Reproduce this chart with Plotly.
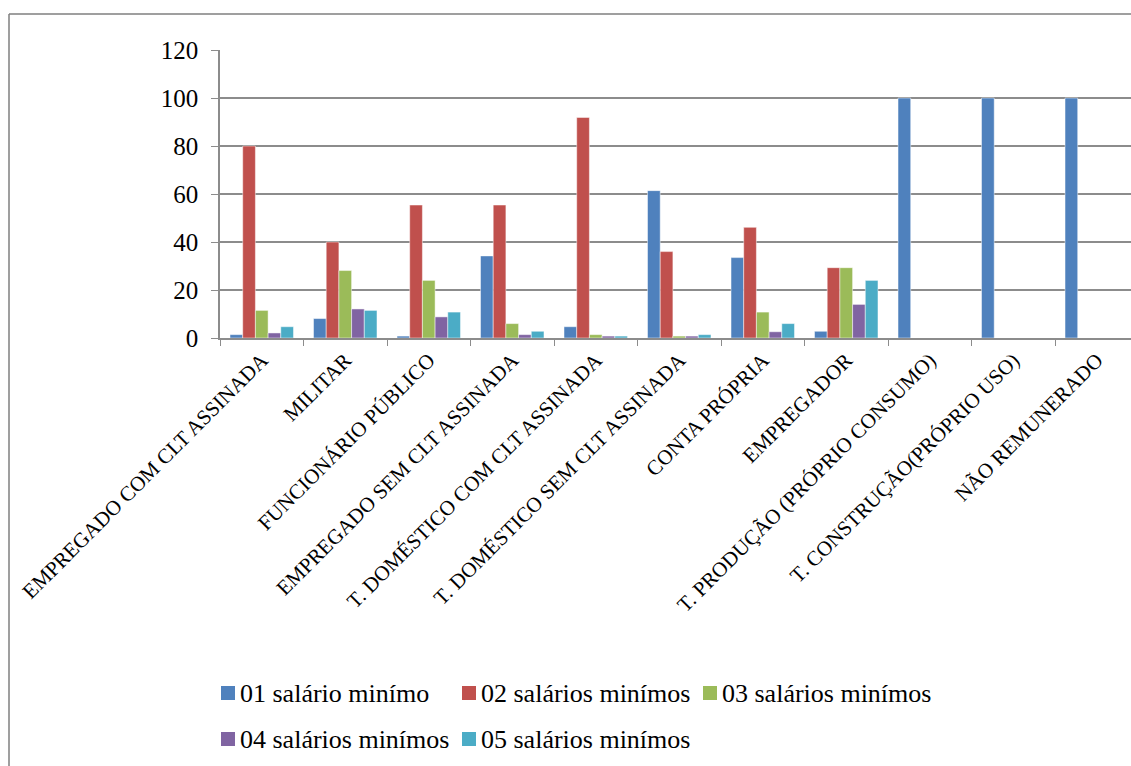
import plotly.graph_objects as go

categories = [
    "EMPREGADO COM CLT ASSINADA",
    "MILITAR",
    "FUNCIONÁRIO PÚBLICO",
    "EMPREGADO SEM CLT ASSINADA",
    "T. DOMÉSTICO COM CLT ASSINADA",
    "T. DOMÉSTICO SEM CLT ASSINADA",
    "CONTA PRÓPRIA",
    "EMPREGADOR",
    "T. PRODUÇÃO (PRÓPRIO CONSUMO)",
    "T. CONSTRUÇÃO(PRÓPRIO USO)",
    "NÃO REMUNERADO",
]

s01 = [1.4, 8.1, 0.8, 34.2, 4.7, 61.4, 33.5, 2.8, 100, 100, 100]
s02 = [80.0, 40.0, 55.4, 55.4, 91.9, 36.0, 46.1, 29.3, 0, 0, 0]
s03 = [11.5, 28.1, 24.0, 6.0, 1.4, 0.8, 10.8, 29.3, 0, 0, 0]
s04 = [2.1, 12.1, 8.8, 1.4, 0.8, 0.8, 2.6, 14.0, 0, 0, 0]
s05 = [4.7, 11.5, 10.8, 2.8, 0.8, 1.4, 6.0, 24.0, 0, 0, 0]

series_names = [
    "01 salário minímo",
    "02 salários minímos",
    "03 salários minímos",
    "04 salários minímos",
    "05 salários minímos",
]
series_values = [s01, s02, s03, s04, s05]
colors = ["#4F81BD", "#C0504D", "#9BBB59", "#8064A2", "#4BACC6"]

W, H = 1131, 766
plot_left, plot_top, plot_bottom = 220, 50, 338
cat_px = 83.5
plot_w = W - plot_left
plot_h = plot_bottom - plot_top
x_end = -0.5 + plot_w / cat_px

def px_x(p):
    return (p - plot_left) / plot_w

def px_y(p):
    return (plot_bottom - p) / plot_h

fig = go.Figure()
for name, vals, col in zip(series_names, series_values, colors):
    fig.add_trace(go.Bar(
        x=categories, y=vals, name=name,
        marker=dict(color=col, line=dict(color="rgba(255,255,255,0.6)", width=0.8)),
        showlegend=False,
    ))

grid = "#8c8c8c"
ff = "Liberation Serif"

# legend drawn as shapes + text annotations (two rows, like the original)
leg_cols = [221, 462, 703, 221, 462]
leg_rows = [693, 693, 693, 739, 739]
msize = 14
shapes = [
    dict(type="line", xref="paper", yref="paper", x0=px_x(9), x1=px_x(9),
         y0=px_y(14), y1=px_y(H + 10), line=dict(color="#7f7f7f", width=1.5)),
    dict(type="line", xref="paper", yref="paper", x0=px_x(9), x1=px_x(W + 10),
         y0=px_y(14), y1=px_y(14), line=dict(color="#7f7f7f", width=1.5)),
]
annotations = []
for name, col, lx, ly in zip(series_names, colors, leg_cols, leg_rows):
    shapes.append(dict(
        type="rect", xref="paper", yref="paper",
        x0=px_x(lx), x1=px_x(lx + msize), y0=px_y(ly - msize / 2), y1=px_y(ly + msize / 2),
        fillcolor=col, line=dict(width=0),
    ))
    annotations.append(dict(
        xref="paper", yref="paper", x=px_x(lx + msize + 3), y=px_y(ly),
        xanchor="left", yanchor="middle", showarrow=False, text=name,
        font=dict(family=ff, size=26, color="#000000"),
    ))

fig.update_layout(
    template="none",
    width=W, height=H,
    margin=dict(l=plot_left, r=0, t=plot_top, b=H - plot_bottom, pad=0),
    paper_bgcolor="white", plot_bgcolor="white",
    barmode="group", bargap=0.24, bargroupgap=0,
    font=dict(family=ff, color="#000000", size=21),
    showlegend=False,
    xaxis=dict(
        type="category", range=[-0.5, x_end], tickangle=-45,
        showline=True, linecolor=grid, linewidth=1.5,
        ticks="outside", tickson="boundaries", ticklen=6, tickcolor=grid,
        showgrid=False, tickfont=dict(size=21, family=ff, color="#000000"),
    ),
    yaxis=dict(
        range=[0, 120], dtick=20, showgrid=True, gridcolor=grid, gridwidth=1.5,
        showline=True, linecolor=grid, linewidth=1.5,
        ticks="outside", ticklen=7, tickcolor=grid, zeroline=False,
        ticklabelstandoff=8,
        tickfont=dict(size=25, family=ff, color="#000000"),
    ),
    shapes=shapes,
    annotations=annotations,
)

fig.write_html("out.html")
